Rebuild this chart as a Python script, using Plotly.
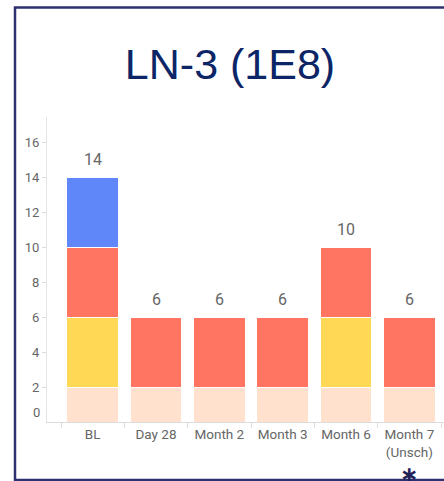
import plotly.graph_objects as go

categories = ["BL", "Day 28", "Month 2", "Month 3", "Month 6", "Month 7<br>(Unsch)"]
peach = [2, 2, 2, 2, 2, 2]
yellow = [4, 0, 0, 0, 4, 0]
red = [4, 4, 4, 4, 4, 4]
blue = [4, 0, 0, 0, 0, 0]
y_tick_vals = [2, 4, 6, 8, 10, 12, 14, 16]

totals = [a + b + c + d for a, b, c, d in zip(peach, yellow, red, blue)]

W, H = 444, 481
ML, MR, MT, MB = 47, 0, 117, 59
PW = W - ML - MR
PH = H - MT - MB

series = [
    ("peach", peach, "#FFE1CD"),
    ("yellow", yellow, "#FFD955"),
    ("red", red, "#FF7562"),
    ("blue", blue, "#5F87FA"),
]

fig = go.Figure()
for name, vals, col in series:
    fig.add_trace(go.Bar(
        x=categories, y=vals, name=name,
        marker=dict(color=col, line=dict(color="white", width=1)),
        showlegend=False, hoverinfo="skip",
    ))

for c, t in zip(categories, totals):
    fig.add_annotation(x=c, y=t, text=str(t), showarrow=False,
                       xref="x", yref="y", yanchor="bottom", yshift=6,
                       font=dict(family="Roboto", size=16, color="#666666"))

# "0" label (drawn slightly above the baseline as in the reference)
fig.add_annotation(x=0, y=0, xref="paper", yref="y", text="0", showarrow=False,
                   xanchor="right", yanchor="middle", xshift=-5, yshift=10,
                   font=dict(family="Roboto", size=13, color="#666666"))

# asterisk under last category
fig.add_annotation(x=categories[-1], y=0, xref="x", yref="y", text="<b>∗</b>",
                   showarrow=False, yanchor="middle", yshift=-52,
                   font=dict(family="DejaVu Sans", size=22, color="#1f2258"))

# frame
def px_x(p):
    return (p - ML) / PW
def px_y(p):
    return (H - MB - p) / PH

fig.add_shape(type="rect", xref="paper", yref="paper",
              x0=px_x(15), x1=px_x(520), y0=px_y(480), y1=px_y(7.5),
              line=dict(color="#2e3070", width=2.5), fillcolor="rgba(0,0,0,0)")

fig.update_layout(
    width=W, height=H,
    margin=dict(l=ML, r=MR, t=MT, b=MB),
    barmode="stack", bargap=0.18,
    plot_bgcolor="white", paper_bgcolor="white",
    title=dict(text="LN-3 (1E8)", x=230 / W, xref="container", xanchor="center",
               y=1 - 64 / H, yref="container", yanchor="middle",
               font=dict(family="Liberation Sans", size=43, color="#0c2566")),
    xaxis=dict(
        range=[-0.721, 5.547], showgrid=False, zeroline=False,
        showline=True, linecolor="#dcdcdc", linewidth=1,
        ticks="outside", tickson="boundaries", ticklen=5, tickcolor="#dcdcdc",
        tickfont=dict(family="Roboto", size=13.5, color="#666666"),
    ),
    yaxis=dict(
        range=[0, PH / 17.5], showgrid=False, zeroline=False,
        showline=True, linecolor="#e4e4e4", linewidth=1,
        tickvals=y_tick_vals, ticks="outside", ticklen=4, tickcolor="#dcdcdc",
        tickfont=dict(family="Roboto", size=13, color="#666666"),
    ),
)

fig.write_html("out.html", config={"displayModeBar": False},
               post_script="document.body.style.margin='0';document.body.style.overflow='hidden';")
